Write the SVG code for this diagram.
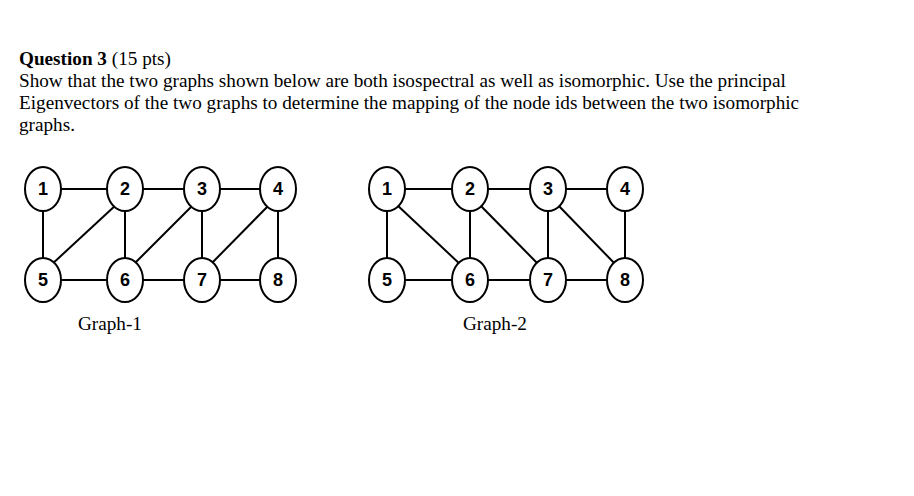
<svg xmlns="http://www.w3.org/2000/svg" width="914" height="496" viewBox="0 0 914 496">
<style>
.t{font-family:"Liberation Serif",serif;font-size:19.2px;fill:#000}
.n ellipse{fill:#fff;stroke:#000;stroke-width:2}
.n text{font-family:"Liberation Sans",Arial,sans-serif;font-weight:bold;font-size:18px;text-anchor:middle;fill:#000}
#edges line{stroke:#000;stroke-width:2}
</style>
<rect width="914" height="496" fill="#fff"/>
<text class="t" x="19" y="65"><tspan font-weight="bold">Question 3</tspan> (15 pts)</text>
<text class="t" x="19" y="87">Show that the two graphs shown below are both isospectral as well as isomorphic. Use the principal</text>
<text class="t" x="19" y="109">Eigenvectors of the two graphs to determine the mapping of the node ids between the two isomorphic</text>
<text class="t" x="19" y="131">graphs.</text>
<g id="edges">
<line x1="43" y1="189" x2="125" y2="189"/><line x1="125" y1="189" x2="202" y2="189"/><line x1="202" y1="189" x2="278" y2="189"/>
<line x1="43" y1="280" x2="125" y2="280"/><line x1="125" y1="280" x2="202" y2="280"/><line x1="202" y1="280" x2="278" y2="280"/>
<line x1="43" y1="189" x2="43" y2="280"/><line x1="125" y1="189" x2="125" y2="280"/><line x1="202" y1="189" x2="202" y2="280"/><line x1="278" y1="189" x2="278" y2="280"/>
<line x1="117" y1="204" x2="50" y2="266"/><line x1="194" y1="204" x2="132" y2="266"/><line x1="270" y1="204" x2="209" y2="266"/>
<line x1="387" y1="189" x2="470" y2="189"/><line x1="470" y1="189" x2="548" y2="189"/><line x1="548" y1="189" x2="625" y2="189"/>
<line x1="387" y1="280" x2="470" y2="280"/><line x1="470" y1="280" x2="548" y2="280"/><line x1="548" y1="280" x2="625" y2="280"/>
<line x1="387" y1="189" x2="387" y2="280"/><line x1="470" y1="189" x2="470" y2="280"/><line x1="548" y1="189" x2="548" y2="280"/><line x1="625" y1="189" x2="625" y2="280"/>
<line x1="396" y1="204" x2="462" y2="266"/><line x1="479" y1="204" x2="540" y2="266"/><line x1="557" y1="204" x2="617" y2="266"/>
</g>
<g id="g1-1" class="n"><ellipse cx="43" cy="189" rx="18" ry="22"/><text x="43" y="195">1</text></g>
<g id="g1-2" class="n"><ellipse cx="125" cy="189" rx="18" ry="22"/><text x="125" y="195">2</text></g>
<g id="g1-3" class="n"><ellipse cx="202" cy="189" rx="18" ry="22"/><text x="202" y="195">3</text></g>
<g id="g1-4" class="n"><ellipse cx="278" cy="189" rx="18" ry="22"/><text x="278" y="195">4</text></g>
<g id="g1-5" class="n"><ellipse cx="43" cy="280" rx="18" ry="22"/><text x="43" y="286">5</text></g>
<g id="g1-6" class="n"><ellipse cx="125" cy="280" rx="18" ry="22"/><text x="125" y="286">6</text></g>
<g id="g1-7" class="n"><ellipse cx="202" cy="280" rx="18" ry="22"/><text x="202" y="286">7</text></g>
<g id="g1-8" class="n"><ellipse cx="278" cy="280" rx="18" ry="22"/><text x="278" y="286">8</text></g>
<g id="g2-1" class="n"><ellipse cx="387" cy="189" rx="18" ry="22"/><text x="387" y="195">1</text></g>
<g id="g2-2" class="n"><ellipse cx="470" cy="189" rx="18" ry="22"/><text x="470" y="195">2</text></g>
<g id="g2-3" class="n"><ellipse cx="548" cy="189" rx="18" ry="22"/><text x="548" y="195">3</text></g>
<g id="g2-4" class="n"><ellipse cx="625" cy="189" rx="18" ry="22"/><text x="625" y="195">4</text></g>
<g id="g2-5" class="n"><ellipse cx="387" cy="280" rx="18" ry="22"/><text x="387" y="286">5</text></g>
<g id="g2-6" class="n"><ellipse cx="470" cy="280" rx="18" ry="22"/><text x="470" y="286">6</text></g>
<g id="g2-7" class="n"><ellipse cx="548" cy="280" rx="18" ry="22"/><text x="548" y="286">7</text></g>
<g id="g2-8" class="n"><ellipse cx="625" cy="280" rx="18" ry="22"/><text x="625" y="286">8</text></g>
<text class="t" x="78" y="330">Graph-1</text>
<text class="t" x="463" y="330">Graph-2</text>
</svg>
